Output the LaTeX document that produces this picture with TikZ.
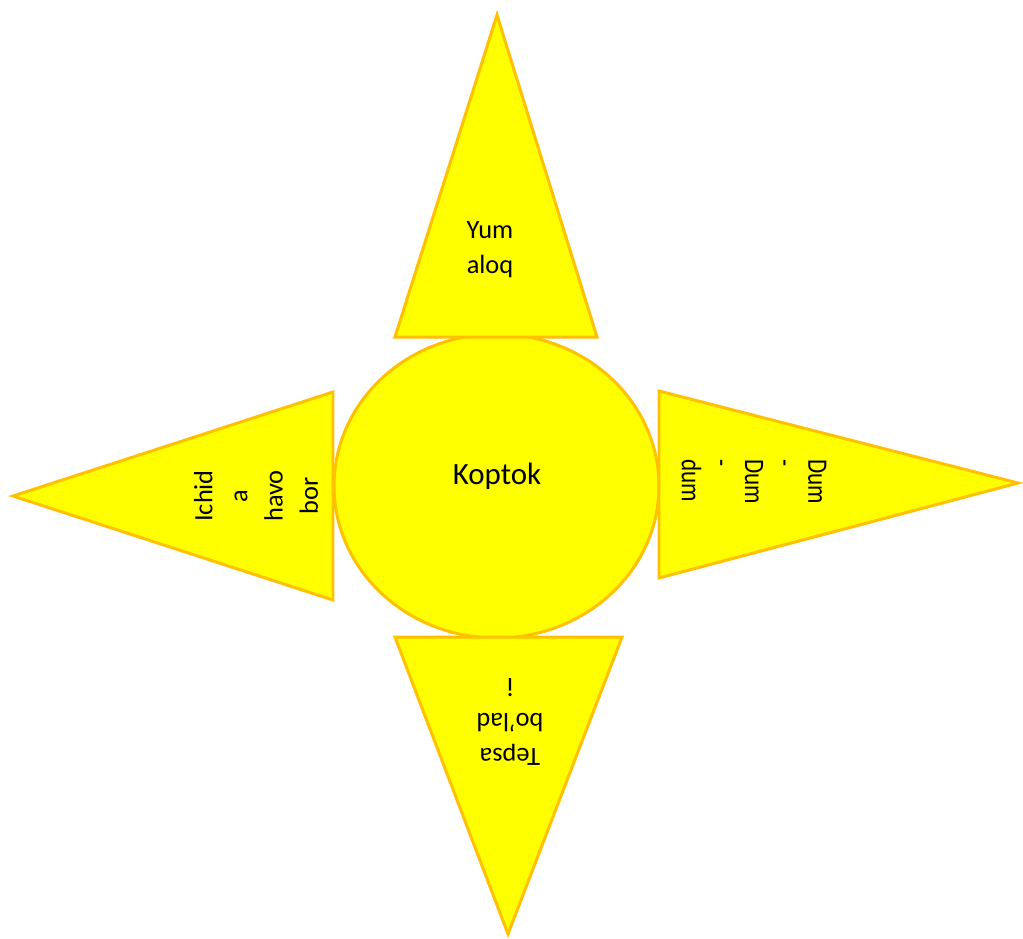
\documentclass[tikz,border=0pt]{standalone}
\usepackage{fontspec}
\setmainfont{Carlito}
\definecolor{sunfill}{RGB}{255,255,0}
\definecolor{sunline}{RGB}{255,192,0}
\tikzset{
  ray/.style={fill=sunfill,draw=sunline,line width=0.85pt},
  raytext/.style={font=\fontsize{7.5}{10}\selectfont,align=center,inner sep=0pt},
}
\begin{document}
\begin{tikzpicture}[x=0.01cm,y=-0.01cm,line join=miter]
\useasboundingbox (0,0) rectangle (1023,938);
\def\cx{496.5}
\def\cy{486}

% ball
\draw[ray] (\cx,\cy) ellipse [x radius=162.5, y radius=152];

% four rays
\draw[ray] (497,15) -- (597,337) -- (395,337) -- cycle;
\draw[ray] (13,496) -- (333,392) -- (333,600) -- cycle;
\draw[ray] (1018,483) -- (659,391) -- (659,578) -- cycle;
\draw[ray] (395,637) -- (622,637) -- (508,934) -- cycle;

\node[font=\fontsize{8.8}{10}\selectfont,inner sep=0pt] (ball) at (497,476) {Koptok};
\node[raytext] (up) at (490,250) {Yum\\aloq};
\node[raytext,rotate=90] (left) at (256,496) {Ichid\\a\\havo\\bor};
\node[raytext,font=\fontsize{8}{9}\selectfont,align=left,rotate=-90,xscale=0.82] (right) at (754,482) {Dum\\-\\Dum\\-\\dum};
\node[raytext,rotate=180] (down) at (510,722) {Tepsa\\bo’lad\\i};
\end{tikzpicture}
\end{document}
